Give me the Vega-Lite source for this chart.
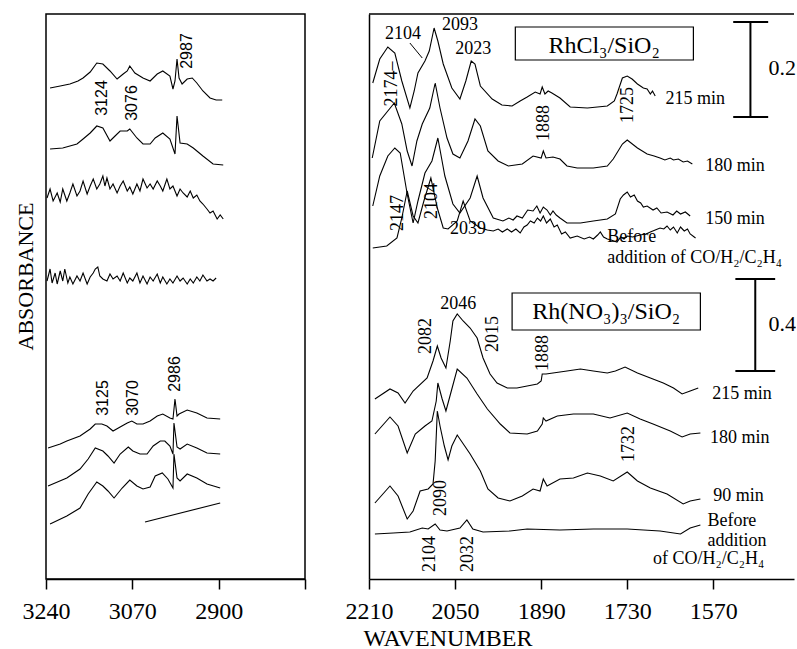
{
"$schema": "https://vega.github.io/schema/vega-lite/v6.json",
"padding": {"left": 13, "top": 13, "right": 0, "bottom": 0},
"spacing": 64,
"bounds": "flush",
"config": {
 "view": {"stroke": "black", "strokeWidth": 1.5},
 "axis": {"grid": false, "domainColor": "black", "domainWidth": 1.5, "tickColor": "black", "tickWidth": 1.5, "tickSize": 10, "labelColor": "black", "labelFont": "Liberation Serif", "labelFontSize": 24, "titleColor": "black", "titleFont": "Liberation Serif", "titleFontSize": 24, "titleFontWeight": "normal"},
 "text": {"font": "Liberation Serif", "fontSize": 18, "color": "black"},
 "line": {"color": "black", "strokeWidth": 1.1}
},
"datasets": {
 "left": [
  {"s":"L1","w":3232,"a":0.982},{"s":"L1","w":3212,"a":0.986},{"s":"L1","w":3193,"a":0.990},{"s":"L1","w":3177,"a":0.996},{"s":"L1","w":3167,"a":1.002},{"s":"L1","w":3153,"a":1.014},{"s":"L1","w":3140,"a":1.032},{"s":"L1","w":3128,"a":1.030},{"s":"L1","w":3114,"a":1.016},{"s":"L1","w":3100,"a":1.000},{"s":"L1","w":3088,"a":1.010},{"s":"L1","w":3080,"a":1.016},{"s":"L1","w":3075,"a":1.026},{"s":"L1","w":3065,"a":1.012},{"s":"L1","w":3049,"a":1.002},{"s":"L1","w":3035,"a":0.996},{"s":"L1","w":3021,"a":1.010},{"s":"L1","w":3010,"a":1.016},{"s":"L1","w":2996,"a":1.006},{"s":"L1","w":2990,"a":0.980},{"s":"L1","w":2986,"a":0.996},{"s":"L1","w":2982,"a":1.040},{"s":"L1","w":2978,"a":1.002},{"s":"L1","w":2972,"a":0.990},{"s":"L1","w":2962,"a":1.000},{"s":"L1","w":2952,"a":1.002},{"s":"L1","w":2943,"a":0.992},{"s":"L1","w":2931,"a":0.976},{"s":"L1","w":2917,"a":0.962},{"s":"L1","w":2905,"a":0.958},{"s":"L1","w":2893,"a":0.958},
  {"s":"L2","w":3232,"a":0.860},{"s":"L2","w":3207,"a":0.862},{"s":"L2","w":3179,"a":0.870},{"s":"L2","w":3167,"a":0.880},{"s":"L2","w":3153,"a":0.892},{"s":"L2","w":3140,"a":0.906},{"s":"L2","w":3128,"a":0.902},{"s":"L2","w":3114,"a":0.876},{"s":"L2","w":3104,"a":0.886},{"s":"L2","w":3094,"a":0.896},{"s":"L2","w":3080,"a":0.896},{"s":"L2","w":3075,"a":0.900},{"s":"L2","w":3061,"a":0.882},{"s":"L2","w":3049,"a":0.870},{"s":"L2","w":3035,"a":0.870},{"s":"L2","w":3025,"a":0.882},{"s":"L2","w":3010,"a":0.892},{"s":"L2","w":2996,"a":0.880},{"s":"L2","w":2986,"a":0.850},{"s":"L2","w":2982,"a":0.926},{"s":"L2","w":2976,"a":0.872},{"s":"L2","w":2962,"a":0.870},{"s":"L2","w":2950,"a":0.862},{"s":"L2","w":2931,"a":0.846},{"s":"L2","w":2911,"a":0.830},{"s":"L2","w":2891,"a":0.828},
  {"s":"L3","w":3238,"a":0.762},{"s":"L3","w":3232,"a":0.780},{"s":"L3","w":3226,"a":0.756},{"s":"L3","w":3218,"a":0.772},{"s":"L3","w":3212,"a":0.754},{"s":"L3","w":3207,"a":0.780},{"s":"L3","w":3199,"a":0.756},{"s":"L3","w":3193,"a":0.772},{"s":"L3","w":3187,"a":0.790},{"s":"L3","w":3179,"a":0.766},{"s":"L3","w":3173,"a":0.776},{"s":"L3","w":3167,"a":0.796},{"s":"L3","w":3159,"a":0.770},{"s":"L3","w":3153,"a":0.786},{"s":"L3","w":3147,"a":0.800},{"s":"L3","w":3140,"a":0.780},{"s":"L3","w":3134,"a":0.790},{"s":"L3","w":3128,"a":0.806},{"s":"L3","w":3124,"a":0.786},{"s":"L3","w":3120,"a":0.802},{"s":"L3","w":3114,"a":0.780},{"s":"L3","w":3108,"a":0.790},{"s":"L3","w":3100,"a":0.772},{"s":"L3","w":3094,"a":0.786},{"s":"L3","w":3088,"a":0.796},{"s":"L3","w":3080,"a":0.776},{"s":"L3","w":3075,"a":0.784},{"s":"L3","w":3069,"a":0.770},{"s":"L3","w":3061,"a":0.790},{"s":"L3","w":3055,"a":0.776},{"s":"L3","w":3049,"a":0.800},{"s":"L3","w":3041,"a":0.782},{"s":"L3","w":3035,"a":0.790},{"s":"L3","w":3029,"a":0.780},{"s":"L3","w":3021,"a":0.796},{"s":"L3","w":3015,"a":0.786},{"s":"L3","w":3010,"a":0.776},{"s":"L3","w":3002,"a":0.800},{"s":"L3","w":2996,"a":0.780},{"s":"L3","w":2990,"a":0.786},{"s":"L3","w":2982,"a":0.766},{"s":"L3","w":2976,"a":0.780},{"s":"L3","w":2970,"a":0.772},{"s":"L3","w":2962,"a":0.764},{"s":"L3","w":2956,"a":0.776},{"s":"L3","w":2950,"a":0.762},{"s":"L3","w":2943,"a":0.768},{"s":"L3","w":2937,"a":0.756},{"s":"L3","w":2931,"a":0.750},{"s":"L3","w":2923,"a":0.740},{"s":"L3","w":2917,"a":0.732},{"s":"L3","w":2911,"a":0.736},{"s":"L3","w":2903,"a":0.720},{"s":"L3","w":2897,"a":0.728},{"s":"L3","w":2891,"a":0.720},
  {"s":"L4","w":3238,"a":0.596},{"s":"L4","w":3232,"a":0.620},{"s":"L4","w":3228,"a":0.592},{"s":"L4","w":3222,"a":0.612},{"s":"L4","w":3218,"a":0.590},{"s":"L4","w":3212,"a":0.616},{"s":"L4","w":3207,"a":0.596},{"s":"L4","w":3203,"a":0.620},{"s":"L4","w":3197,"a":0.592},{"s":"L4","w":3193,"a":0.604},{"s":"L4","w":3187,"a":0.590},{"s":"L4","w":3179,"a":0.606},{"s":"L4","w":3173,"a":0.596},{"s":"L4","w":3167,"a":0.612},{"s":"L4","w":3159,"a":0.590},{"s":"L4","w":3153,"a":0.604},{"s":"L4","w":3147,"a":0.612},{"s":"L4","w":3143,"a":0.620},{"s":"L4","w":3138,"a":0.624},{"s":"L4","w":3134,"a":0.606},{"s":"L4","w":3128,"a":0.600},{"s":"L4","w":3120,"a":0.596},{"s":"L4","w":3114,"a":0.610},{"s":"L4","w":3108,"a":0.600},{"s":"L4","w":3100,"a":0.606},{"s":"L4","w":3094,"a":0.596},{"s":"L4","w":3088,"a":0.612},{"s":"L4","w":3080,"a":0.592},{"s":"L4","w":3075,"a":0.602},{"s":"L4","w":3069,"a":0.596},{"s":"L4","w":3061,"a":0.612},{"s":"L4","w":3055,"a":0.592},{"s":"L4","w":3049,"a":0.606},{"s":"L4","w":3041,"a":0.590},{"s":"L4","w":3035,"a":0.604},{"s":"L4","w":3029,"a":0.596},{"s":"L4","w":3021,"a":0.610},{"s":"L4","w":3015,"a":0.592},{"s":"L4","w":3010,"a":0.604},{"s":"L4","w":3002,"a":0.590},{"s":"L4","w":2996,"a":0.600},{"s":"L4","w":2990,"a":0.592},{"s":"L4","w":2982,"a":0.606},{"s":"L4","w":2976,"a":0.596},{"s":"L4","w":2970,"a":0.602},{"s":"L4","w":2962,"a":0.590},{"s":"L4","w":2956,"a":0.600},{"s":"L4","w":2950,"a":0.592},{"s":"L4","w":2943,"a":0.604},{"s":"L4","w":2937,"a":0.596},{"s":"L4","w":2931,"a":0.608},{"s":"L4","w":2923,"a":0.596},{"s":"L4","w":2917,"a":0.600},{"s":"L4","w":2911,"a":0.596},{"s":"L4","w":2905,"a":0.602},
  {"s":"LA","w":3236,"a":0.262},{"s":"LA","w":3212,"a":0.270},{"s":"LA","w":3199,"a":0.276},{"s":"LA","w":3173,"a":0.286},{"s":"LA","w":3153,"a":0.300},{"s":"LA","w":3143,"a":0.310},{"s":"LA","w":3130,"a":0.310},{"s":"LA","w":3120,"a":0.306},{"s":"LA","w":3108,"a":0.296},{"s":"LA","w":3094,"a":0.304},{"s":"LA","w":3080,"a":0.312},{"s":"LA","w":3071,"a":0.316},{"s":"LA","w":3061,"a":0.310},{"s":"LA","w":3049,"a":0.310},{"s":"LA","w":3035,"a":0.316},{"s":"LA","w":3021,"a":0.326},{"s":"LA","w":3010,"a":0.330},{"s":"LA","w":2996,"a":0.322},{"s":"LA","w":2990,"a":0.320},{"s":"LA","w":2986,"a":0.360},{"s":"LA","w":2982,"a":0.326},{"s":"LA","w":2978,"a":0.330},{"s":"LA","w":2962,"a":0.338},{"s":"LA","w":2943,"a":0.332},{"s":"LA","w":2923,"a":0.322},{"s":"LA","w":2897,"a":0.320},
  {"s":"LB","w":3236,"a":0.186},{"s":"LB","w":3199,"a":0.202},{"s":"LB","w":3173,"a":0.220},{"s":"LB","w":3157,"a":0.240},{"s":"LB","w":3143,"a":0.262},{"s":"LB","w":3128,"a":0.256},{"s":"LB","w":3118,"a":0.246},{"s":"LB","w":3106,"a":0.232},{"s":"LB","w":3094,"a":0.250},{"s":"LB","w":3078,"a":0.264},{"s":"LB","w":3069,"a":0.256},{"s":"LB","w":3055,"a":0.250},{"s":"LB","w":3041,"a":0.250},{"s":"LB","w":3029,"a":0.266},{"s":"LB","w":3015,"a":0.276},{"s":"LB","w":3006,"a":0.276},{"s":"LB","w":2996,"a":0.266},{"s":"LB","w":2990,"a":0.250},{"s":"LB","w":2988,"a":0.312},{"s":"LB","w":2982,"a":0.264},{"s":"LB","w":2976,"a":0.260},{"s":"LB","w":2962,"a":0.270},{"s":"LB","w":2943,"a":0.262},{"s":"LB","w":2923,"a":0.252},{"s":"LB","w":2897,"a":0.250},
  {"s":"LC","w":3232,"a":0.110},{"s":"LC","w":3199,"a":0.126},{"s":"LC","w":3173,"a":0.142},{"s":"LC","w":3157,"a":0.170},{"s":"LC","w":3140,"a":0.194},{"s":"LC","w":3128,"a":0.186},{"s":"LC","w":3118,"a":0.176},{"s":"LC","w":3106,"a":0.162},{"s":"LC","w":3090,"a":0.182},{"s":"LC","w":3075,"a":0.198},{"s":"LC","w":3061,"a":0.186},{"s":"LC","w":3049,"a":0.180},{"s":"LC","w":3035,"a":0.184},{"s":"LC","w":3025,"a":0.206},{"s":"LC","w":3011,"a":0.212},{"s":"LC","w":3000,"a":0.200},{"s":"LC","w":2990,"a":0.182},{"s":"LC","w":2988,"a":0.250},{"s":"LC","w":2982,"a":0.202},{"s":"LC","w":2976,"a":0.196},{"s":"LC","w":2962,"a":0.210},{"s":"LC","w":2943,"a":0.202},{"s":"LC","w":2923,"a":0.190},{"s":"LC","w":2897,"a":0.182},
  {"s":"LD","w":3045,"a":0.114},{"s":"LD","w":2897,"a":0.152}
 ],
 "right": [
  {"s":"R215","w":2203,"a":0.992},{"s":"R215","w":2190,"a":1.040},{"s":"R215","w":2175,"a":1.064},{"s":"R215","w":2162,"a":1.052},{"s":"R215","w":2149,"a":0.996},{"s":"R215","w":2134,"a":0.942},{"s":"R215","w":2126,"a":0.976},{"s":"R215","w":2119,"a":1.012},{"s":"R215","w":2106,"a":1.036},{"s":"R215","w":2098,"a":1.056},{"s":"R215","w":2089,"a":1.102},{"s":"R215","w":2082,"a":1.076},{"s":"R215","w":2072,"a":1.030},{"s":"R215","w":2056,"a":0.982},{"s":"R215","w":2041,"a":0.960},{"s":"R215","w":2030,"a":0.996},{"s":"R215","w":2020,"a":1.036},{"s":"R215","w":2013,"a":1.030},{"s":"R215","w":2003,"a":0.986},{"s":"R215","w":1981,"a":0.960},{"s":"R215","w":1963,"a":0.948},{"s":"R215","w":1944,"a":0.946},{"s":"R215","w":1929,"a":0.956},{"s":"R215","w":1916,"a":0.964},{"s":"R215","w":1901,"a":0.974},{"s":"R215","w":1892,"a":0.970},{"s":"R215","w":1888,"a":0.984},{"s":"R215","w":1883,"a":0.970},{"s":"R215","w":1877,"a":0.976},{"s":"R215","w":1870,"a":0.972},{"s":"R215","w":1855,"a":0.962},{"s":"R215","w":1836,"a":0.944},{"s":"R215","w":1804,"a":0.942},{"s":"R215","w":1767,"a":0.946},{"s":"R215","w":1754,"a":0.956},{"s":"R215","w":1749,"a":0.970},{"s":"R215","w":1739,"a":1.002},{"s":"R215","w":1730,"a":1.006},{"s":"R215","w":1721,"a":1.000},{"s":"R215","w":1711,"a":0.990},{"s":"R215","w":1700,"a":0.982},{"s":"R215","w":1693,"a":0.980},{"s":"R215","w":1687,"a":0.970},{"s":"R215","w":1683,"a":0.976},{"s":"R215","w":1678,"a":0.966},
  {"s":"R180","w":2204,"a":0.842},{"s":"R180","w":2190,"a":0.916},{"s":"R180","w":2163,"a":0.952},{"s":"R180","w":2149,"a":0.910},{"s":"R180","w":2139,"a":0.856},{"s":"R180","w":2130,"a":0.826},{"s":"R180","w":2121,"a":0.876},{"s":"R180","w":2111,"a":0.910},{"s":"R180","w":2097,"a":0.942},{"s":"R180","w":2087,"a":0.992},{"s":"R180","w":2078,"a":0.942},{"s":"R180","w":2065,"a":0.882},{"s":"R180","w":2054,"a":0.850},{"s":"R180","w":2041,"a":0.842},{"s":"R180","w":2026,"a":0.876},{"s":"R180","w":2013,"a":0.920},{"s":"R180","w":2003,"a":0.906},{"s":"R180","w":1989,"a":0.856},{"s":"R180","w":1970,"a":0.836},{"s":"R180","w":1951,"a":0.826},{"s":"R180","w":1925,"a":0.830},{"s":"R180","w":1905,"a":0.846},{"s":"R180","w":1890,"a":0.842},{"s":"R180","w":1886,"a":0.856},{"s":"R180","w":1881,"a":0.842},{"s":"R180","w":1868,"a":0.844},{"s":"R180","w":1855,"a":0.840},{"s":"R180","w":1842,"a":0.826},{"s":"R180","w":1823,"a":0.822},{"s":"R180","w":1793,"a":0.822},{"s":"R180","w":1767,"a":0.826},{"s":"R180","w":1756,"a":0.840},{"s":"R180","w":1739,"a":0.870},{"s":"R180","w":1730,"a":0.878},{"s":"R180","w":1711,"a":0.862},{"s":"R180","w":1693,"a":0.850},{"s":"R180","w":1680,"a":0.846},{"s":"R180","w":1669,"a":0.842},{"s":"R180","w":1660,"a":0.838},{"s":"R180","w":1650,"a":0.842},{"s":"R180","w":1644,"a":0.838},{"s":"R180","w":1635,"a":0.840},{"s":"R180","w":1626,"a":0.834},{"s":"R180","w":1618,"a":0.836},{"s":"R180","w":1609,"a":0.830},
  {"s":"R150","w":2203,"a":0.746},{"s":"R150","w":2190,"a":0.806},{"s":"R150","w":2175,"a":0.846},{"s":"R150","w":2162,"a":0.862},{"s":"R150","w":2152,"a":0.852},{"s":"R150","w":2139,"a":0.770},{"s":"R150","w":2128,"a":0.712},{"s":"R150","w":2119,"a":0.756},{"s":"R150","w":2106,"a":0.812},{"s":"R150","w":2093,"a":0.836},{"s":"R150","w":2082,"a":0.882},{"s":"R150","w":2069,"a":0.806},{"s":"R150","w":2054,"a":0.750},{"s":"R150","w":2041,"a":0.732},{"s":"R150","w":2022,"a":0.762},{"s":"R150","w":2009,"a":0.806},{"s":"R150","w":1998,"a":0.762},{"s":"R150","w":1979,"a":0.722},{"s":"R150","w":1961,"a":0.716},{"s":"R150","w":1950,"a":0.722},{"s":"R150","w":1942,"a":0.718},{"s":"R150","w":1935,"a":0.726},{"s":"R150","w":1925,"a":0.722},{"s":"R150","w":1915,"a":0.738},{"s":"R150","w":1905,"a":0.736},{"s":"R150","w":1898,"a":0.746},{"s":"R150","w":1892,"a":0.732},{"s":"R150","w":1886,"a":0.744},{"s":"R150","w":1879,"a":0.738},{"s":"R150","w":1873,"a":0.728},{"s":"R150","w":1868,"a":0.736},{"s":"R150","w":1862,"a":0.728},{"s":"R150","w":1855,"a":0.722},{"s":"R150","w":1842,"a":0.712},{"s":"R150","w":1817,"a":0.712},{"s":"R150","w":1793,"a":0.716},{"s":"R150","w":1767,"a":0.720},{"s":"R150","w":1752,"a":0.730},{"s":"R150","w":1743,"a":0.760},{"s":"R150","w":1737,"a":0.768},{"s":"R150","w":1730,"a":0.774},{"s":"R150","w":1724,"a":0.764},{"s":"R150","w":1717,"a":0.768},{"s":"R150","w":1711,"a":0.756},{"s":"R150","w":1705,"a":0.752},{"s":"R150","w":1700,"a":0.744},{"s":"R150","w":1693,"a":0.746},{"s":"R150","w":1682,"a":0.738},{"s":"R150","w":1675,"a":0.742},{"s":"R150","w":1667,"a":0.732},{"s":"R150","w":1656,"a":0.734},{"s":"R150","w":1645,"a":0.728},{"s":"R150","w":1638,"a":0.736},{"s":"R150","w":1631,"a":0.730},{"s":"R150","w":1622,"a":0.734},{"s":"R150","w":1613,"a":0.726},
  {"s":"RB","w":2203,"a":0.662},{"s":"RB","w":2177,"a":0.666},{"s":"RB","w":2158,"a":0.682},{"s":"RB","w":2149,"a":0.722},{"s":"RB","w":2139,"a":0.776},{"s":"RB","w":2128,"a":0.726},{"s":"RB","w":2119,"a":0.712},{"s":"RB","w":2108,"a":0.756},{"s":"RB","w":2095,"a":0.802},{"s":"RB","w":2083,"a":0.742},{"s":"RB","w":2072,"a":0.702},{"s":"RB","w":2063,"a":0.700},{"s":"RB","w":2046,"a":0.716},{"s":"RB","w":2035,"a":0.756},{"s":"RB","w":2022,"a":0.716},{"s":"RB","w":2003,"a":0.702},{"s":"RB","w":1990,"a":0.698},{"s":"RB","w":1979,"a":0.696},{"s":"RB","w":1970,"a":0.700},{"s":"RB","w":1962,"a":0.694},{"s":"RB","w":1953,"a":0.700},{"s":"RB","w":1945,"a":0.694},{"s":"RB","w":1937,"a":0.700},{"s":"RB","w":1929,"a":0.692},{"s":"RB","w":1922,"a":0.704},{"s":"RB","w":1916,"a":0.708},{"s":"RB","w":1910,"a":0.716},{"s":"RB","w":1903,"a":0.712},{"s":"RB","w":1897,"a":0.722},{"s":"RB","w":1891,"a":0.716},{"s":"RB","w":1886,"a":0.726},{"s":"RB","w":1880,"a":0.712},{"s":"RB","w":1873,"a":0.720},{"s":"RB","w":1866,"a":0.704},{"s":"RB","w":1860,"a":0.708},{"s":"RB","w":1852,"a":0.690},{"s":"RB","w":1845,"a":0.694},{"s":"RB","w":1836,"a":0.682},{"s":"RB","w":1823,"a":0.686},{"s":"RB","w":1810,"a":0.680},{"s":"RB","w":1800,"a":0.684},{"s":"RB","w":1793,"a":0.680},{"s":"RB","w":1785,"a":0.688},{"s":"RB","w":1780,"a":0.694},{"s":"RB","w":1774,"a":0.684},{"s":"RB","w":1767,"a":0.680},{"s":"RB","w":1760,"a":0.678},{"s":"RB","w":1749,"a":0.674},{"s":"RB","w":1742,"a":0.684},{"s":"RB","w":1736,"a":0.680},{"s":"RB","w":1730,"a":0.686},{"s":"RB","w":1720,"a":0.684},{"s":"RB","w":1706,"a":0.688},{"s":"RB","w":1695,"a":0.690},{"s":"RB","w":1687,"a":0.694},{"s":"RB","w":1678,"a":0.698},{"s":"RB","w":1669,"a":0.702},{"s":"RB","w":1662,"a":0.700},{"s":"RB","w":1656,"a":0.706},{"s":"RB","w":1650,"a":0.698},{"s":"RB","w":1644,"a":0.704},{"s":"RB","w":1637,"a":0.692},{"s":"RB","w":1631,"a":0.704},{"s":"RB","w":1624,"a":0.696},{"s":"RB","w":1618,"a":0.700},{"s":"RB","w":1613,"a":0.690},{"s":"RB","w":1603,"a":0.682},
  {"s":"N215","w":2199,"a":0.360},{"s":"N215","w":2171,"a":0.380},{"s":"N215","w":2156,"a":0.372},{"s":"N215","w":2143,"a":0.352},{"s":"N215","w":2128,"a":0.376},{"s":"N215","w":2102,"a":0.402},{"s":"N215","w":2091,"a":0.436},{"s":"N215","w":2083,"a":0.466},{"s":"N215","w":2076,"a":0.442},{"s":"N215","w":2067,"a":0.422},{"s":"N215","w":2059,"a":0.476},{"s":"N215","w":2054,"a":0.516},{"s":"N215","w":2046,"a":0.530},{"s":"N215","w":2035,"a":0.516},{"s":"N215","w":2022,"a":0.502},{"s":"N215","w":2009,"a":0.482},{"s":"N215","w":1998,"a":0.442},{"s":"N215","w":1985,"a":0.410},{"s":"N215","w":1972,"a":0.392},{"s":"N215","w":1953,"a":0.382},{"s":"N215","w":1935,"a":0.382},{"s":"N215","w":1916,"a":0.386},{"s":"N215","w":1897,"a":0.390},{"s":"N215","w":1890,"a":0.396},{"s":"N215","w":1888,"a":0.410},{"s":"N215","w":1881,"a":0.410},{"s":"N215","w":1868,"a":0.412},{"s":"N215","w":1842,"a":0.416},{"s":"N215","w":1817,"a":0.420},{"s":"N215","w":1793,"a":0.416},{"s":"N215","w":1767,"a":0.412},{"s":"N215","w":1752,"a":0.416},{"s":"N215","w":1734,"a":0.424},{"s":"N215","w":1711,"a":0.412},{"s":"N215","w":1687,"a":0.402},{"s":"N215","w":1663,"a":0.392},{"s":"N215","w":1644,"a":0.382},{"s":"N215","w":1628,"a":0.370},{"s":"N215","w":1613,"a":0.376},{"s":"N215","w":1598,"a":0.382},
  {"s":"N180","w":2199,"a":0.290},{"s":"N180","w":2171,"a":0.324},{"s":"N180","w":2156,"a":0.306},{"s":"N180","w":2139,"a":0.252},{"s":"N180","w":2124,"a":0.290},{"s":"N180","w":2106,"a":0.306},{"s":"N180","w":2093,"a":0.316},{"s":"N180","w":2085,"a":0.356},{"s":"N180","w":2082,"a":0.392},{"s":"N180","w":2074,"a":0.360},{"s":"N180","w":2067,"a":0.336},{"s":"N180","w":2057,"a":0.376},{"s":"N180","w":2046,"a":0.420},{"s":"N180","w":2028,"a":0.402},{"s":"N180","w":2009,"a":0.370},{"s":"N180","w":1990,"a":0.340},{"s":"N180","w":1966,"a":0.310},{"s":"N180","w":1948,"a":0.292},{"s":"N180","w":1916,"a":0.290},{"s":"N180","w":1897,"a":0.296},{"s":"N180","w":1888,"a":0.310},{"s":"N180","w":1886,"a":0.322},{"s":"N180","w":1881,"a":0.316},{"s":"N180","w":1860,"a":0.326},{"s":"N180","w":1830,"a":0.330},{"s":"N180","w":1793,"a":0.330},{"s":"N180","w":1762,"a":0.322},{"s":"N180","w":1730,"a":0.332},{"s":"N180","w":1706,"a":0.320},{"s":"N180","w":1682,"a":0.310},{"s":"N180","w":1650,"a":0.296},{"s":"N180","w":1628,"a":0.284},{"s":"N180","w":1613,"a":0.290},{"s":"N180","w":1594,"a":0.292},
  {"s":"N90","w":2199,"a":0.152},{"s":"N90","w":2171,"a":0.186},{"s":"N90","w":2156,"a":0.166},{"s":"N90","w":2139,"a":0.120},{"s":"N90","w":2128,"a":0.136},{"s":"N90","w":2115,"a":0.176},{"s":"N90","w":2100,"a":0.180},{"s":"N90","w":2091,"a":0.190},{"s":"N90","w":2087,"a":0.236},{"s":"N90","w":2083,"a":0.336},{"s":"N90","w":2078,"a":0.306},{"s":"N90","w":2070,"a":0.266},{"s":"N90","w":2063,"a":0.238},{"s":"N90","w":2056,"a":0.266},{"s":"N90","w":2046,"a":0.288},{"s":"N90","w":2022,"a":0.250},{"s":"N90","w":2003,"a":0.216},{"s":"N90","w":1989,"a":0.180},{"s":"N90","w":1970,"a":0.162},{"s":"N90","w":1948,"a":0.156},{"s":"N90","w":1925,"a":0.166},{"s":"N90","w":1905,"a":0.180},{"s":"N90","w":1892,"a":0.176},{"s":"N90","w":1886,"a":0.200},{"s":"N90","w":1879,"a":0.186},{"s":"N90","w":1855,"a":0.200},{"s":"N90","w":1830,"a":0.202},{"s":"N90","w":1804,"a":0.212},{"s":"N90","w":1780,"a":0.206},{"s":"N90","w":1756,"a":0.196},{"s":"N90","w":1730,"a":0.214},{"s":"N90","w":1711,"a":0.196},{"s":"N90","w":1687,"a":0.182},{"s":"N90","w":1656,"a":0.170},{"s":"N90","w":1626,"a":0.150},{"s":"N90","w":1613,"a":0.156},{"s":"N90","w":1594,"a":0.160},
  {"s":"NB","w":2199,"a":0.090},{"s":"NB","w":2165,"a":0.092},{"s":"NB","w":2134,"a":0.094},{"s":"NB","w":2111,"a":0.102},{"s":"NB","w":2100,"a":0.100},{"s":"NB","w":2087,"a":0.110},{"s":"NB","w":2078,"a":0.098},{"s":"NB","w":2065,"a":0.096},{"s":"NB","w":2041,"a":0.102},{"s":"NB","w":2028,"a":0.118},{"s":"NB","w":2017,"a":0.100},{"s":"NB","w":1998,"a":0.094},{"s":"NB","w":1948,"a":0.096},{"s":"NB","w":1916,"a":0.100},{"s":"NB","w":1855,"a":0.098},{"s":"NB","w":1793,"a":0.100},{"s":"NB","w":1730,"a":0.100},{"s":"NB","w":1669,"a":0.096},{"s":"NB","w":1631,"a":0.090},{"s":"NB","w":1613,"a":0.102},{"s":"NB","w":1594,"a":0.108}
 ],
 "ltext": [
  {"w":2962,"a":1.056,"t":"2987"},{"w":3130,"a":0.962,"t":"3124"},{"w":3071,"a":0.952,"t":"3076"},{"w":3128,"a":0.362,"t":"3125"},{"w":3069,"a":0.362,"t":"3070"},{"w":2986,"a":0.410,"t":"2986"}
 ],
 "rtextc": [
  {"w":2147,"a":1.090,"t":"2104"},{"w":2041,"a":1.108,"t":"2093"},{"w":2016,"a":1.060,"t":"2023"},{"w":2026,"a":0.700,"t":"2039"},{"w":2044,"a":0.550,"t":"2046"}
 ],
 "rtextl": [
  {"w":1659,"a":0.960,"t":"215 min"},{"w":1585,"a":0.826,"t":"180 min"},{"w":1585,"a":0.720,"t":"150 min"},{"w":1767,"a":0.684,"t":"Before"},{"w":1767,"a":0.642,"t":"addition of CO/H₂/C₂H₄"},{"w":1572,"a":0.370,"t":"215 min"},{"w":1576,"a":0.282,"t":"180 min"},{"w":1570,"a":0.166,"t":"90 min"},{"w":1581,"a":0.116,"t":"Before"},{"w":1581,"a":0.076,"t":"addition"},{"w":1682,"a":0.040,"t":"of CO/H₂/C₂H₄"}
 ],
 "rtextr": [
  {"w":2167,"a":0.990,"t":"2174–"},{"w":1884,"a":0.912,"t":"1888"},{"w":1728,"a":0.948,"t":"1725"},{"w":2156,"a":0.732,"t":"2147"},{"w":2093,"a":0.756,"t":"2104"},{"w":2104,"a":0.486,"t":"2082"},{"w":1979,"a":0.490,"t":"2015"},{"w":1886,"a":0.452,"t":"1888"},{"w":1726,"a":0.270,"t":"1732"},{"w":2076,"a":0.162,"t":"2090"},{"w":2097,"a":0.050,"t":"2104"},{"w":2026,"a":0.050,"t":"2032"}
 ],
 "boxes": [
  {"w1":1938,"w2":1607,"a1":1.104,"a2":1.038},{"w1":1944,"w2":1594,"a1":0.572,"a2":0.498}
 ],
 "boxtext": [
  {"w":1773,"a":1.066,"t":"RhCl₃/SiO₂"},{"w":1769,"a":0.535,"t":"Rh(NO₃)₃/SiO₂"}
 ],
 "bars": [
  {"w1":1501,"w2":1501,"a1":0.924,"a2":1.114},{"w1":1533,"w2":1468,"a1":1.114,"a2":1.114},{"w1":1533,"w2":1468,"a1":0.924,"a2":0.924},
  {"w1":1492,"w2":1492,"a1":0.416,"a2":0.600},{"w1":1529,"w2":1455,"a1":0.600,"a2":0.600},{"w1":1529,"w2":1455,"a1":0.416,"a2":0.416}
 ],
 "leader": [{"w1":2134,"w2":2111,"a1":1.072,"a2":1.042}],
 "barlab": [{"w":1442,"a":1.022,"t":"0.2"},{"w":1442,"a":0.510,"t":"0.4"}],
 "frame": [{"w1":2210,"w2":1420,"a":1.13}]
},
"hconcat": [
 {
  "width": 259, "height": 565,
  "encoding": {
   "x": {"field": "w", "type": "quantitative", "scale": {"domain": [2730, 3240], "reverse": true, "nice": false, "zero": false},
         "axis": {"values": [3240, 3070, 2900, 2730], "format": "d", "labelExpr": "datum.value == 2730 ? '' : datum.label", "title": null, "labelFlush": false, "labelPadding": 10}},
   "y": {"field": "a", "type": "quantitative", "scale": {"domain": [0, 1.13], "nice": false, "zero": false},
         "axis": {"title": "ABSORBANCE", "titleFontSize": 22, "titleY": 262, "labels": false, "ticks": false, "domain": false, "titlePadding": 9}}
  },
  "layer": [
   {"data": {"name": "left"}, "mark": {"type": "line"}, "encoding": {"detail": {"field": "s"}}},
   {"data": {"name": "ltext"}, "mark": {"type": "text", "angle": 270, "font": "Liberation Sans", "fontSize": 16}, "encoding": {"text": {"field": "t"}}}
  ]
 },
 {
  "width": 425, "height": 565,
  "view": {"stroke": "transparent", "strokeWidth": 0},
  "encoding": {
   "x": {"field": "w", "type": "quantitative", "scale": {"domain": [1420, 2210], "reverse": true, "nice": false, "zero": false},
         "axis": {"values": [2210, 2050, 1890, 1730, 1570], "format": "d", "title": "WAVENUMBER", "titleX": -6, "titleAlign": "left", "titleY": 66, "titleBaseline": "alphabetic", "labelFlush": false, "labelPadding": 10}},
   "y": {"field": "a", "type": "quantitative", "scale": {"domain": [0, 1.13], "nice": false, "zero": false},
         "axis": {"title": null, "labels": false, "ticks": false, "domain": true, "minExtent": 0, "maxExtent": 0}}
  },
  "layer": [
   {"data": {"name": "right"}, "mark": {"type": "line"}, "encoding": {"detail": {"field": "s"}}},
   {"data": {"name": "rtextc"}, "mark": {"type": "text", "align": "center"}, "encoding": {"text": {"field": "t"}}},
   {"data": {"name": "rtextl"}, "mark": {"type": "text", "align": "left"}, "encoding": {"text": {"field": "t"}}},
   {"data": {"name": "rtextr"}, "mark": {"type": "text", "angle": 270}, "encoding": {"text": {"field": "t"}}},
   {"data": {"name": "boxes"}, "mark": {"type": "rect", "fill": "transparent", "stroke": "black", "strokeWidth": 1.2},
    "encoding": {"x": {"field": "w1", "type": "quantitative"}, "x2": {"field": "w2"}, "y": {"field": "a1", "type": "quantitative"}, "y2": {"field": "a2"}}},
   {"data": {"name": "boxtext"}, "mark": {"type": "text", "fontSize": 24}, "encoding": {"text": {"field": "t"}}},
   {"data": {"name": "bars"}, "mark": {"type": "rule", "color": "black", "strokeWidth": 2},
    "encoding": {"x": {"field": "w1", "type": "quantitative"}, "x2": {"field": "w2"}, "y": {"field": "a1", "type": "quantitative"}, "y2": {"field": "a2"}}},
   {"data": {"name": "leader"}, "mark": {"type": "rule", "color": "black", "strokeWidth": 1},
    "encoding": {"x": {"field": "w1", "type": "quantitative"}, "x2": {"field": "w2"}, "y": {"field": "a1", "type": "quantitative"}, "y2": {"field": "a2"}}},
   {"data": {"name": "barlab"}, "mark": {"type": "text", "fontSize": 22}, "encoding": {"text": {"field": "t"}}},
   {"data": {"name": "frame"}, "mark": {"type": "rule", "color": "black", "strokeWidth": 1.5},
    "encoding": {"x": {"field": "w1", "type": "quantitative"}, "x2": {"field": "w2"}, "y": {"field": "a", "type": "quantitative"}}}
  ]
 }
]
}
